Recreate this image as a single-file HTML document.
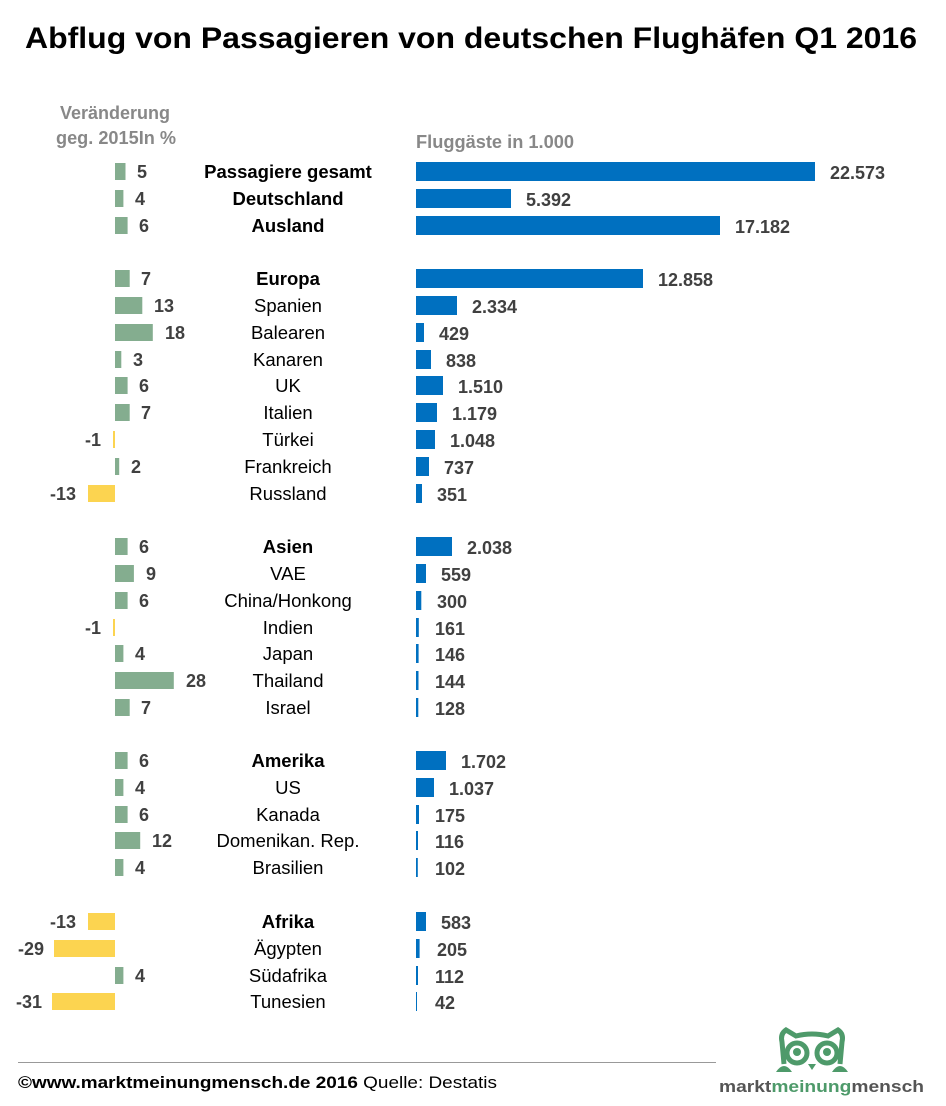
<!DOCTYPE html>
<html><head><meta charset="utf-8"><style>
html,body{margin:0;padding:0;background:#fff;}
svg{display:block;font-family:"Liberation Sans",sans-serif;}
.l{font-size:18.5px;fill:#000;text-anchor:middle;}
.b{font-weight:bold;}
.v{font-size:18px;font-weight:bold;fill:#404040;}
.g{fill:#84ad8f;}.y{fill:#fcd450;}.bl{fill:#0070c0;}
</style></head><body>
<svg width="946" height="1106" viewBox="0 0 946 1106">
<text x="471" y="48" font-size="30" font-weight="bold" text-anchor="middle" textLength="892" lengthAdjust="spacingAndGlyphs">Abflug von Passagieren von deutschen Flughäfen Q1 2016</text>
<text x="115" y="119" font-size="18" font-weight="bold" fill="#888" text-anchor="middle">Veränderung</text>
<text x="116" y="144" font-size="18" font-weight="bold" fill="#888" text-anchor="middle" textLength="120" lengthAdjust="spacingAndGlyphs">geg. 2015In %</text>
<text x="416" y="148" font-size="18" font-weight="bold" fill="#888" textLength="158" lengthAdjust="spacingAndGlyphs">Fluggäste in 1.000</text>

<g>
<rect class="g" x="115" y="163" width="10.5" height="17"/><text class="v" x="137" y="178">5</text><text class="l b" x="288" y="178">Passagiere gesamt</text><rect class="bl" x="416" y="162" width="399" height="19"/><text class="v" x="830" y="179">22.573</text>
<rect class="g" x="115" y="190" width="8.4" height="17"/><text class="v" x="135" y="205">4</text><text class="l b" x="288" y="205">Deutschland</text><rect class="bl" x="416" y="189" width="95" height="19"/><text class="v" x="526" y="206">5.392</text>
<rect class="g" x="115" y="217" width="12.6" height="17"/><text class="v" x="139" y="232">6</text><text class="l b" x="288" y="232">Ausland</text><rect class="bl" x="416" y="216" width="304" height="19"/><text class="v" x="735" y="233">17.182</text>

<rect class="g" x="115" y="270" width="14.7" height="17"/><text class="v" x="141" y="285">7</text><text class="l b" x="288" y="285">Europa</text><rect class="bl" x="416" y="269" width="227" height="19"/><text class="v" x="658" y="286">12.858</text>
<rect class="g" x="115" y="297" width="27.3" height="17"/><text class="v" x="154" y="312">13</text><text class="l" x="288" y="312">Spanien</text><rect class="bl" x="416" y="296" width="41" height="19"/><text class="v" x="472" y="313">2.334</text>
<rect class="g" x="115" y="324" width="37.8" height="17"/><text class="v" x="165" y="339">18</text><text class="l" x="288" y="339">Balearen</text><rect class="bl" x="416" y="323" width="8" height="19"/><text class="v" x="439" y="340">429</text>
<rect class="g" x="115" y="351" width="6.3" height="17"/><text class="v" x="133" y="366">3</text><text class="l" x="288" y="366">Kanaren</text><rect class="bl" x="416" y="350" width="15" height="19"/><text class="v" x="446" y="367">838</text>
<rect class="g" x="115" y="377" width="12.6" height="17"/><text class="v" x="139" y="392">6</text><text class="l" x="288" y="392">UK</text><rect class="bl" x="416" y="376" width="27" height="19"/><text class="v" x="458" y="393">1.510</text>
<rect class="g" x="115" y="404" width="14.7" height="17"/><text class="v" x="141" y="419">7</text><text class="l" x="288" y="419">Italien</text><rect class="bl" x="416" y="403" width="21" height="19"/><text class="v" x="452" y="420">1.179</text>
<rect class="y" x="113" y="431" width="2" height="17"/><text class="v" x="101" y="446" text-anchor="end">-1</text><text class="l" x="288" y="446">Türkei</text><rect class="bl" x="416" y="430" width="19" height="19"/><text class="v" x="450" y="447">1.048</text>
<rect class="g" x="115" y="458" width="4.2" height="17"/><text class="v" x="131" y="473">2</text><text class="l" x="288" y="473">Frankreich</text><rect class="bl" x="416" y="457" width="13" height="19"/><text class="v" x="444" y="474">737</text>
<rect class="y" x="88" y="485" width="27" height="17"/><text class="v" x="76" y="500" text-anchor="end">-13</text><text class="l" x="288" y="500">Russland</text><rect class="bl" x="416" y="484" width="6" height="19"/><text class="v" x="437" y="501">351</text>

<rect class="g" x="115" y="538" width="12.6" height="17"/><text class="v" x="139" y="553">6</text><text class="l b" x="288" y="553">Asien</text><rect class="bl" x="416" y="537" width="36" height="19"/><text class="v" x="467" y="554">2.038</text>
<rect class="g" x="115" y="565" width="18.9" height="17"/><text class="v" x="146" y="580">9</text><text class="l" x="288" y="580">VAE</text><rect class="bl" x="416" y="564" width="10" height="19"/><text class="v" x="441" y="581">559</text>
<rect class="g" x="115" y="592" width="12.6" height="17"/><text class="v" x="139" y="607">6</text><text class="l" x="288" y="607">China/Honkong</text><rect class="bl" x="416" y="591" width="5.3" height="19"/><text class="v" x="437" y="608">300</text>
<rect class="y" x="113" y="619" width="2" height="17"/><text class="v" x="101" y="634" text-anchor="end">-1</text><text class="l" x="288" y="634">Indien</text><rect class="bl" x="416" y="618" width="2.8" height="19"/><text class="v" x="435" y="635">161</text>
<rect class="g" x="115" y="645" width="8.4" height="17"/><text class="v" x="135" y="660">4</text><text class="l" x="288" y="660">Japan</text><rect class="bl" x="416" y="644" width="2.6" height="19"/><text class="v" x="435" y="661">146</text>
<rect class="g" x="115" y="672" width="58.8" height="17"/><text class="v" x="186" y="687">28</text><text class="l" x="288" y="687">Thailand</text><rect class="bl" x="416" y="671" width="2.5" height="19"/><text class="v" x="435" y="688">144</text>
<rect class="g" x="115" y="699" width="14.7" height="17"/><text class="v" x="141" y="714">7</text><text class="l" x="288" y="714">Israel</text><rect class="bl" x="416" y="698" width="2.3" height="19"/><text class="v" x="435" y="715">128</text>

<rect class="g" x="115" y="752" width="12.6" height="17"/><text class="v" x="139" y="767">6</text><text class="l b" x="288" y="767">Amerika</text><rect class="bl" x="416" y="751" width="30" height="19"/><text class="v" x="461" y="768">1.702</text>
<rect class="g" x="115" y="779" width="8.4" height="17"/><text class="v" x="135" y="794">4</text><text class="l" x="288" y="794">US</text><rect class="bl" x="416" y="778" width="18" height="19"/><text class="v" x="449" y="795">1.037</text>
<rect class="g" x="115" y="806" width="12.6" height="17"/><text class="v" x="139" y="821">6</text><text class="l" x="288" y="821">Kanada</text><rect class="bl" x="416" y="805" width="3" height="19"/><text class="v" x="435" y="822">175</text>
<rect class="g" x="115" y="832" width="25.2" height="17"/><text class="v" x="152" y="847">12</text><text class="l" x="288" y="847">Domenikan. Rep.</text><rect class="bl" x="416" y="831" width="2" height="19"/><text class="v" x="435" y="848">116</text>
<rect class="g" x="115" y="859" width="8.4" height="17"/><text class="v" x="135" y="874">4</text><text class="l" x="288" y="874">Brasilien</text><rect class="bl" x="416" y="858" width="1.8" height="19"/><text class="v" x="435" y="875">102</text>

<rect class="y" x="88" y="913" width="27" height="17"/><text class="v" x="76" y="928" text-anchor="end">-13</text><text class="l b" x="288" y="928">Afrika</text><rect class="bl" x="416" y="912" width="10" height="19"/><text class="v" x="441" y="929">583</text>
<rect class="y" x="54" y="940" width="61" height="17"/><text class="v" x="44" y="955" text-anchor="end">-29</text><text class="l" x="288" y="955">Ägypten</text><rect class="bl" x="416" y="939" width="3.6" height="19"/><text class="v" x="437" y="956">205</text>
<rect class="g" x="115" y="967" width="8.4" height="17"/><text class="v" x="135" y="982">4</text><text class="l" x="288" y="982">Südafrika</text><rect class="bl" x="416" y="966" width="2" height="19"/><text class="v" x="435" y="983">112</text>
<rect class="y" x="52" y="993" width="63" height="17"/><text class="v" x="42" y="1008" text-anchor="end">-31</text><text class="l" x="288" y="1008">Tunesien</text><rect class="bl" x="416" y="992" width="1" height="19"/><text class="v" x="435" y="1009">42</text>
</g>

<line x1="18" y1="1062.5" x2="716" y2="1062.5" stroke="#999" stroke-width="1"/>
<text x="18" y="1088" font-size="17" textLength="479" lengthAdjust="spacingAndGlyphs"><tspan font-weight="bold">©www.marktmeinungmensch.de 2016</tspan> Quelle: Destatis</text>

<g fill="none" stroke="#4e9a6a" stroke-width="5">
<path d="M784 1064 L782 1042 Q780 1034 786 1030 L796 1036 Q812 1032 828 1036 L838 1030 Q844 1034 842 1042 L840 1064"/>
<circle cx="797" cy="1053" r="10"/><circle cx="827" cy="1053" r="10"/>
</g>
<circle cx="797" cy="1052" r="4" fill="#4e9a6a"/><circle cx="827" cy="1052" r="4" fill="#4e9a6a"/>
<path d="M808 1064 L816 1064 L812 1070 Z" fill="#4e9a6a"/>
<path d="M776 1072 Q784 1060 792 1072 Z M832 1072 Q840 1060 848 1072 Z" fill="#4e9a6a"/>
<text x="719" y="1092" font-size="17" font-weight="bold" textLength="205" lengthAdjust="spacingAndGlyphs"><tspan fill="#555">markt</tspan><tspan fill="#4e9a6a">meinung</tspan><tspan fill="#555">mensch</tspan></text>
</svg>
</body></html>
